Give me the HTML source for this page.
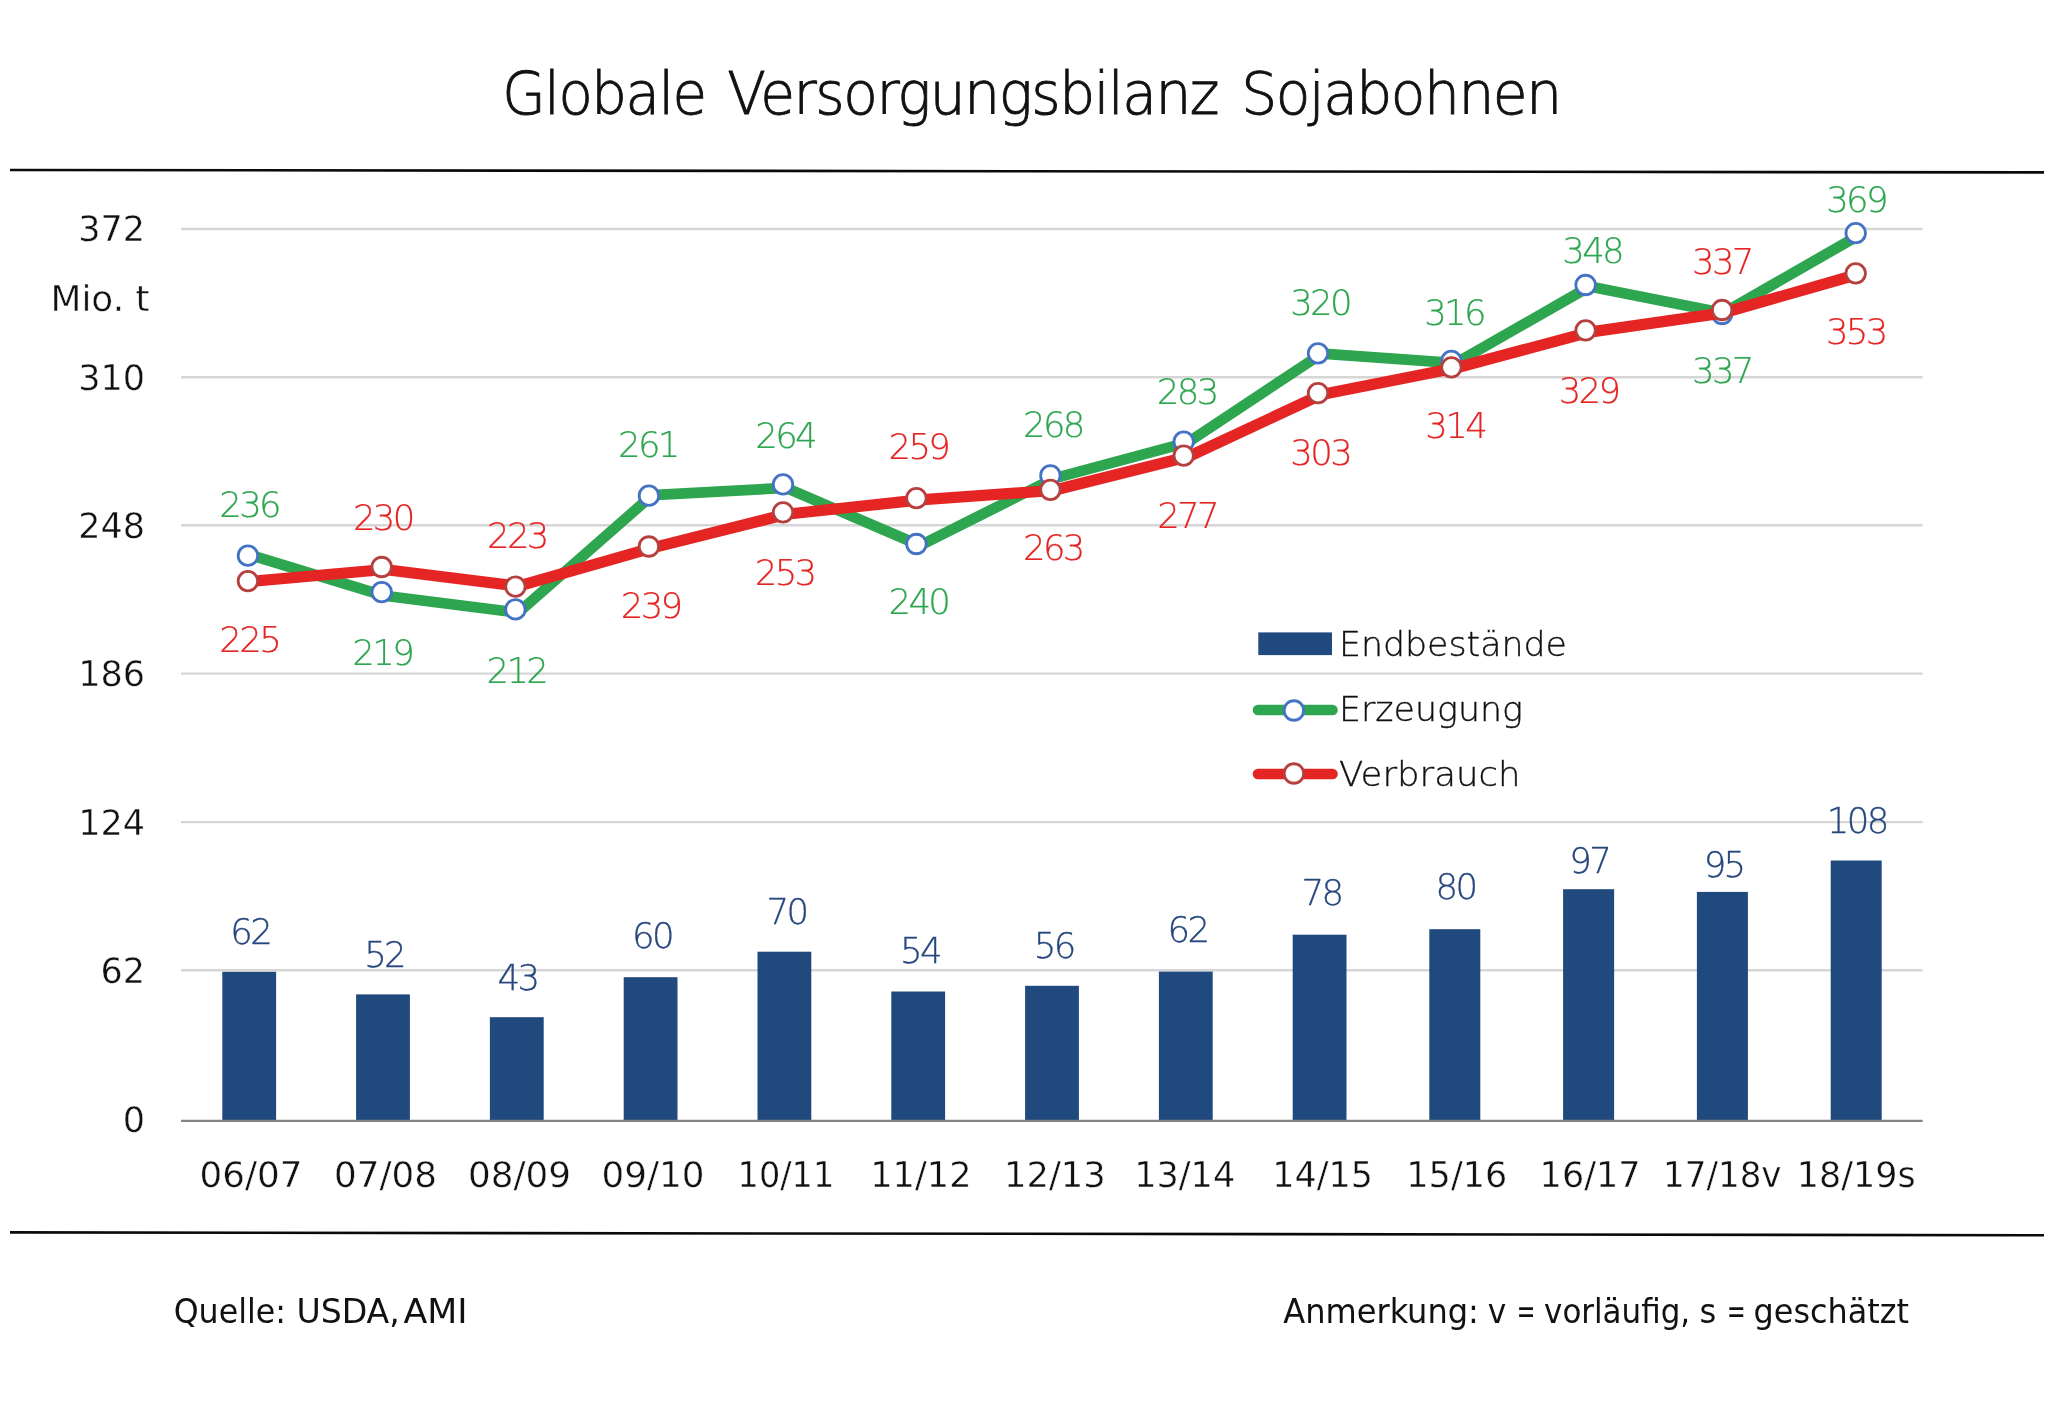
<!DOCTYPE html>
<html lang="de"><head><meta charset="utf-8"><title>Globale Versorgungsbilanz Sojabohnen</title>
<style>html,body{margin:0;padding:0;background:#fff}svg{display:block;will-change:transform}.l{font-family:"DejaVu Sans Light", "DejaVu Sans", "Liberation Sans", sans-serif;font-weight:200}.r{font-family:"DejaVu Sans Condensed", "Liberation Sans", sans-serif;font-weight:400}.w{font-family:"DejaVu Sans", "Liberation Sans", sans-serif;font-weight:400}</style></head><body>
<svg width="2048" height="1403" viewBox="0 0 2048 1403">
<rect width="2048" height="1403" fill="#fff"/>
<line x1="10" y1="170.0" x2="2044" y2="172.4" stroke="#0a0a0a" stroke-width="2.6"/>
<line x1="10" y1="1232.4" x2="2044" y2="1235.2" stroke="#0a0a0a" stroke-width="2.6"/>
<g stroke="#d6d6d6" stroke-width="2.4">
<line x1="181.0" y1="229.0" x2="1922.7" y2="229.0"/>
<line x1="181.0" y1="377.2" x2="1922.7" y2="377.2"/>
<line x1="181.0" y1="525.2" x2="1922.7" y2="525.2"/>
<line x1="181.0" y1="673.6" x2="1922.7" y2="673.6"/>
<line x1="181.0" y1="822.1" x2="1922.7" y2="822.1"/>
<line x1="181.0" y1="970.2" x2="1922.7" y2="970.2"/>
</g>
<g fill="#20497d">
<rect x="222.3" y="971.8" width="53.8" height="148.4"/>
<rect x="356.1" y="994.4" width="53.8" height="125.8"/>
<rect x="489.9" y="1017.2" width="53.8" height="103.0"/>
<rect x="623.7" y="977.2" width="53.8" height="143.0"/>
<rect x="757.5" y="951.7" width="53.8" height="168.5"/>
<rect x="891.3" y="991.5" width="53.8" height="128.7"/>
<rect x="1025.1" y="985.8" width="53.8" height="134.4"/>
<rect x="1158.9" y="971.6" width="53.8" height="148.6"/>
<rect x="1292.7" y="934.7" width="53.8" height="185.5"/>
<rect x="1429.3" y="929.2" width="51.0" height="191.0"/>
<rect x="1563.1" y="889.2" width="51.0" height="231.0"/>
<rect x="1696.9" y="891.9" width="51.0" height="228.3"/>
<rect x="1830.7" y="860.5" width="51.0" height="259.7"/>
</g>
<line x1="181.0" y1="1120.9" x2="1922.7" y2="1120.9" stroke="#858383" stroke-width="2.4"/>
<text class="l" y="113.8" font-size="58.5" fill="#111" stroke="#111" stroke-width="0.9" letter-spacing="-1.5"><tspan x="502.2" textLength="203.5" lengthAdjust="spacingAndGlyphs">Globale</tspan><tspan x="727.3" textLength="490.8" lengthAdjust="spacingAndGlyphs">Versorgungsbilanz</tspan><tspan x="1241.2" textLength="319.5" lengthAdjust="spacingAndGlyphs">Sojabohnen</tspan></text>
<g class="w" font-size="35.0" fill="#111" stroke="#fff" stroke-width="0.4" text-anchor="end">
<text x="145.0" y="241.4">372</text>
<text x="145.0" y="389.6">310</text>
<text x="145.0" y="537.6">248</text>
<text x="145.0" y="686.0">186</text>
<text x="145.0" y="834.5">124</text>
<text x="145.0" y="982.6">62</text>
<text x="145.0" y="1132.1">0</text>
</g>
<text class="w" x="50.5" y="311" font-size="35.0" fill="#111" stroke="#fff" stroke-width="0.4" textLength="99" lengthAdjust="spacingAndGlyphs">Mio. t</text>
<g class="w" font-size="35.0" fill="#111" stroke="#fff" stroke-width="0.4" text-anchor="middle">
<text x="251.0" y="1187.4" textLength="102.9" lengthAdjust="spacingAndGlyphs">06/07</text>
<text x="385.5" y="1187.4" textLength="102.9" lengthAdjust="spacingAndGlyphs">07/08</text>
<text x="519.5" y="1187.4" textLength="102.9" lengthAdjust="spacingAndGlyphs">08/09</text>
<text x="653.0" y="1187.4" textLength="102.9" lengthAdjust="spacingAndGlyphs">09/10</text>
<text x="785.9" y="1187.4" textLength="96.7" lengthAdjust="spacingAndGlyphs">10/11</text>
<text x="920.9" y="1187.4" textLength="101.3" lengthAdjust="spacingAndGlyphs">11/12</text>
<text x="1054.9" y="1187.4" textLength="101.8" lengthAdjust="spacingAndGlyphs">12/13</text>
<text x="1184.7" y="1187.4" textLength="101.0" lengthAdjust="spacingAndGlyphs">13/14</text>
<text x="1322.6" y="1187.4" textLength="100.7" lengthAdjust="spacingAndGlyphs">14/15</text>
<text x="1456.8" y="1187.4" textLength="101.0" lengthAdjust="spacingAndGlyphs">15/16</text>
<text x="1590.1" y="1187.4" textLength="101.0" lengthAdjust="spacingAndGlyphs">16/17</text>
<text x="1722.3" y="1187.4" textLength="118.5" lengthAdjust="spacingAndGlyphs">17/18v</text>
<text x="1856.2" y="1187.4" textLength="118.8" lengthAdjust="spacingAndGlyphs">18/19s</text>
</g>
<polyline points="250.6,555.1 384.5,595.8 518.4,612.6 652.3,495.1 786.2,487.9 920.1,545.5 1054.0,478.3 1187.9,442.4 1321.8,353.6 1455.7,363.2 1589.6,286.5 1723.5,312.9 1857.4,236.1" fill="none" stroke="#2ea54f" stroke-width="10.7" stroke-linejoin="round" stroke-linecap="butt"/>
<g fill="#fff" stroke="#4472c4" stroke-width="2.8">
<circle cx="247.9" cy="555.7" r="9.75"/>
<circle cx="381.7" cy="592.2" r="9.75"/>
<circle cx="515.4" cy="609.4" r="9.75"/>
<circle cx="648.9" cy="495.7" r="9.75"/>
<circle cx="783.0" cy="484.4" r="9.75"/>
<circle cx="916.4" cy="544.0" r="9.75"/>
<circle cx="1050.4" cy="475.4" r="9.75"/>
<circle cx="1183.7" cy="441.6" r="9.75"/>
<circle cx="1318.0" cy="353.3" r="9.75"/>
<circle cx="1451.4" cy="360.8" r="9.75"/>
<circle cx="1585.6" cy="285.0" r="9.75"/>
<circle cx="1722.1" cy="314.0" r="9.75"/>
<circle cx="1855.7" cy="233.2" r="9.75"/>
</g>
<polyline points="250.6,581.4 384.5,569.5 518.4,586.2 652.3,547.9 786.2,514.3 920.1,499.9 1054.0,490.3 1187.9,456.8 1321.8,394.4 1455.7,368.0 1589.6,332.1 1723.5,312.9 1857.4,274.5" fill="none" stroke="#e42523" stroke-width="11.2" stroke-linejoin="round" stroke-linecap="butt"/>
<g fill="#fff" stroke="#b5403e" stroke-width="2.8">
<circle cx="247.9" cy="581.1" r="9.75"/>
<circle cx="381.7" cy="567.0" r="9.75"/>
<circle cx="515.4" cy="586.6" r="9.75"/>
<circle cx="648.9" cy="546.5" r="9.75"/>
<circle cx="783.0" cy="512.3" r="9.75"/>
<circle cx="916.4" cy="498.2" r="9.75"/>
<circle cx="1050.4" cy="489.8" r="9.75"/>
<circle cx="1183.7" cy="455.6" r="9.75"/>
<circle cx="1318.0" cy="393.2" r="9.75"/>
<circle cx="1451.4" cy="367.3" r="9.75"/>
<circle cx="1585.6" cy="330.3" r="9.75"/>
<circle cx="1722.1" cy="310.0" r="9.75"/>
<circle cx="1855.7" cy="273.3" r="9.75"/>
</g>
<g class="l" font-size="35.5" fill="#2ea54f" stroke="#2ea54f" stroke-width="0.2" text-anchor="middle" letter-spacing="-2.7">
<text x="249.1" y="516.6">236</text>
<text x="382.2" y="665.1">219</text>
<text x="516.4" y="682.7">212</text>
<text x="647.9" y="456.6">261</text>
<text x="785.1" y="447.9">264</text>
<text x="918.4" y="613.9">240</text>
<text x="1052.9" y="437.0">268</text>
<text x="1186.7" y="404.0">283</text>
<text x="1320.0" y="314.7">320</text>
<text x="1454.0" y="324.7">316</text>
<text x="1592.1" y="263.0">348</text>
<text x="1721.9" y="382.9">337</text>
<text x="1856.0" y="212.3">369</text>
</g>
<g class="l" font-size="35.5" fill="#e42523" stroke="#e42523" stroke-width="0.2" text-anchor="middle" letter-spacing="-2.7">
<text x="249.2" y="652.4">225</text>
<text x="382.8" y="529.9">230</text>
<text x="516.9" y="547.9">223</text>
<text x="650.6" y="617.8">239</text>
<text x="784.6" y="584.6">253</text>
<text x="918.4" y="459.2">259</text>
<text x="1052.9" y="559.7">263</text>
<text x="1187.0" y="527.5">277</text>
<text x="1320.2" y="465.0">303</text>
<text x="1455.2" y="438.1">314</text>
<text x="1588.5" y="403.2">329</text>
<text x="1721.9" y="274.0">337</text>
<text x="1855.8" y="344.2">353</text>
</g>
<g class="l" font-size="35.5" fill="#27477e" stroke="#27477e" stroke-width="0.3" text-anchor="middle" letter-spacing="-2.7">
<text x="250.2" y="943.9">62</text>
<text x="384.1" y="967.3">52</text>
<text x="517.5" y="989.6">43</text>
<text x="652.0" y="947.9">60</text>
<text x="786.4" y="924.3">70</text>
<text x="920.0" y="963.3">54</text>
<text x="1053.7" y="957.9">56</text>
<text x="1187.5" y="942.3">62</text>
<text x="1321.5" y="905.3">78</text>
<text x="1455.5" y="899.1">80</text>
<text x="1589.2" y="872.8">97</text>
<text x="1723.6" y="876.9">95</text>
<text x="1856.7" y="833.2">108</text>
</g>
<rect x="1258.3" y="632.4" width="73.7" height="22.7" fill="#20497d"/>
<line x1="1258" y1="710" x2="1332.5" y2="710" stroke="#2ea54f" stroke-width="10.6" stroke-linecap="round"/>
<circle cx="1293.9" cy="710.5" r="9.75" fill="#fff" stroke="#4472c4" stroke-width="2.8"/>
<line x1="1258" y1="774" x2="1332.5" y2="774" stroke="#e42523" stroke-width="10.6" stroke-linecap="round"/>
<circle cx="1293.9" cy="773.5" r="9.75" fill="#fff" stroke="#b5403e" stroke-width="2.8"/>
<g class="l" font-size="34.5" fill="#111" stroke="#111" stroke-width="0.35">
<text x="1339" y="656.4" textLength="228" lengthAdjust="spacingAndGlyphs">Endbestände</text>
<text x="1339" y="721.0" textLength="184" lengthAdjust="spacingAndGlyphs">Erzeugung</text>
<text x="1339" y="786.4" textLength="181.5" lengthAdjust="spacingAndGlyphs">Verbrauch</text>
</g>
<g class="r" font-size="34.0" fill="#111">
<text y="1322.5"><tspan x="173.7" textLength="112.3" lengthAdjust="spacingAndGlyphs">Quelle:</tspan> <tspan x="296.4" textLength="103.4" lengthAdjust="spacingAndGlyphs">USDA,</tspan> <tspan x="403.4" textLength="64.1" lengthAdjust="spacingAndGlyphs">AMI</tspan></text>
<text y="1322.5"><tspan x="1283.3" textLength="195.6" lengthAdjust="spacingAndGlyphs">Anmerkung:</tspan> <tspan x="1487.7" textLength="18.5" lengthAdjust="spacingAndGlyphs">v</tspan> <tspan x="1516.7" textLength="18.6" lengthAdjust="spacingAndGlyphs">=</tspan> <tspan x="1544.1" textLength="146.0" lengthAdjust="spacingAndGlyphs">vorläufig,</tspan> <tspan x="1699.6" textLength="16.8" lengthAdjust="spacingAndGlyphs">s</tspan> <tspan x="1726.9" textLength="18.6" lengthAdjust="spacingAndGlyphs">=</tspan> <tspan x="1753.6" textLength="155.3" lengthAdjust="spacingAndGlyphs">geschätzt</tspan></text>
</g>
</svg></body></html>
